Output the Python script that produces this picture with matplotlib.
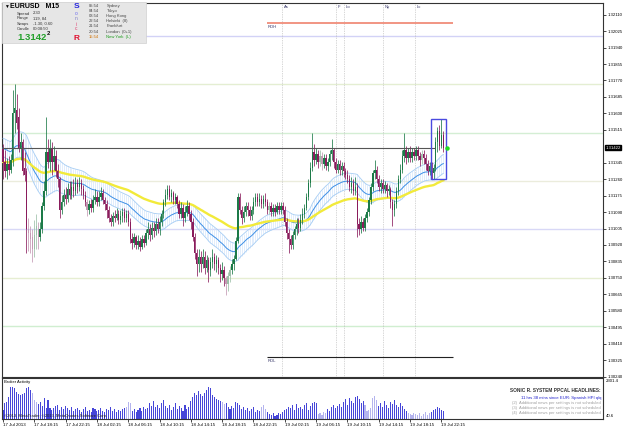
import matplotlib
matplotlib.use('Agg')
import matplotlib.pyplot as plt
from matplotlib.patches import Rectangle
import matplotlib.transforms as mtrans
import numpy as np

plt.rcParams['font.family'] = ['Liberation Sans', 'DejaVu Sans']

# EURUSD M15, prices in pips above 1.3000, one entry per bar (17 Jul 14:15 ...)
opens = [142,135,130,134,131,136,160,162,158,142, 145,132,130,100,98,96,90,97,100,96,
         100,112,120,140,135,142,135,138,130,126, 110,114,118,116,121,118,122,120,124,122,
         124,121,118,114,110,113,111,115,117,114, 117,119,115,113,110,106,104,107,106,108,
         105,107,109,106,108,104,95,93,96,92, 94,91,95,93,98,100,97,101,99,103,
         100,104,108,114,118,121,117,119,115,117, 113,108,111,106,109,112,108,104,96,88,
         82,86,82,86,80,84,79,83,86,82, 84,80,77,79,75,72,76,79,82,85,
         94,117,110,106,109,112,110,107,110,114, 117,114,116,113,116,114,110,112,109,111,
         109,112,110,112,110,104,98,95,92,97, 100,103,101,105,108,111,117,124,132,140,
         136,139,135,138,134,137,133,135,139,141, 135,131,134,131,133,130,128,126,122,124,
         120,122,103,100,104,101,106,109,115,122, 129,131,126,122,124,121,123,120,121,114,
         110,113,120,126,131,138,141,137,140,137, 140,138,141,138,136,139,137,134,130,133,
         129,132,145,151,143,149]
highs = [144,141,137,138,139,172,175,170,163,150, 147,140,132,106,102,100,105,108,104,104,
         114,125,158,147,147,145,143,141,134,127, 118,121,122,124,125,125,126,127,126,127,
         126,123,120,116,115,116,118,121,120,120, 122,121,117,115,112,108,109,110,111,110,
         110,111,111,110,110,106,98,98,97,97, 96,97,97,100,104,103,104,104,106,106,
         107,110,116,121,123,123,121,120,119,118, 115,114,113,112,115,114,110,106,98,90,
         90,89,90,89,87,86,86,90,88,87, 86,82,83,81,76,78,81,85,87,96,
         119,119,112,112,114,114,112,112,117,119, 119,119,118,118,119,116,114,114,113,113,
         114,114,114,114,112,106,100,97,99,102, 106,106,108,111,113,119,126,135,150,144,
         142,141,141,140,139,139,137,141,147,142, 137,136,136,135,135,132,131,128,127,126,
         127,124,106,107,106,108,111,117,124,131, 136,133,128,126,126,125,124,123,122,116,
         115,122,128,134,141,150,143,142,143,142, 142,143,143,140,141,141,139,136,135,135,
         134,148,153,154,157,151]
lows = [126,127,126,128,129,133,150,152,140,136, 128,125,88,89,88,83,86,90,90,94,
        98,110,118,132,130,128,131,127,122,106, 108,112,113,114,116,116,117,118,119,120,
        118,116,112,107,108,109,109,113,112,112, 115,113,110,106,104,102,102,104,105,103,
        103,104,104,104,102,93,90,91,90,90, 89,90,91,92,95,94,95,96,97,98,
        97,102,106,112,116,115,114,113,113,111, 106,106,102,104,107,105,100,94,85,76,
        78,78,80,77,78,73,76,80,79,78, 77,73,74,71,66,68,73,77,79,84,
        93,108,103,104,107,107,105,105,108,112, 112,112,111,111,112,108,108,107,107,107,
        108,108,108,108,102,95,88,90,90,95, 97,98,99,103,106,110,115,122,130,133,
        134,132,133,131,132,131,130,133,136,132, 129,129,128,128,127,126,124,120,119,118,
        118,96,97,98,99,99,104,107,113,120, 126,124,120,119,119,119,117,118,111,102,
        107,111,118,124,129,135,134,135,135,135, 136,136,136,133,134,134,131,128,128,126,
        126,130,140,141,142,140]
closes = [135,130,134,131,136,160,163,155,142,145, 130,128,100,98,95,90,97,102,96,100,
          112,120,140,135,142,135,138,130,126,110, 114,118,116,121,118,122,120,124,122,124,
          121,118,114,110,113,111,115,117,114,117, 119,115,113,110,106,104,107,106,108,105,
          107,109,106,108,104,95,93,96,92,94, 91,95,93,98,100,97,101,99,103,100,
          104,108,114,118,121,117,119,115,117,113, 108,111,106,109,112,108,104,96,88,82,
          86,82,86,80,84,79,83,86,82,84, 80,77,79,75,72,76,79,82,85,94,
          117,110,106,109,112,110,107,110,114,117, 114,116,113,116,114,110,112,109,111,109,
          112,110,112,110,104,98,95,92,97,100, 103,101,105,108,111,117,124,132,140,136,
          139,135,138,134,137,133,135,139,141,135, 131,134,131,133,130,128,126,122,124,120,
          122,103,100,104,101,106,109,115,122,129, 131,126,122,124,121,123,120,121,114,110,
          113,120,126,131,138,141,137,140,137,140, 138,141,138,136,139,137,134,130,133,129,
          132,145,151,143,149,142.2]

# broker activity (tick volume) per bar
volume = [535,920,975,1250,1800,1800,1745,1525,1415,1360, 1415,1470,1745,1800,1635,1470,1085,975,865,975,
          755,1195,645,1085,645,535,645,755,810,535, 700,590,755,645,535,700,480,590,645,535,
          425,590,700,480,535,425,645,590,480,535, 645,480,425,590,535,700,480,590,425,535,
          480,590,645,700,975,920,480,590,425,535, 645,480,700,590,645,920,755,1030,700,810,
          645,920,1085,755,645,810,535,700,920,590, 755,645,480,810,590,700,1030,1250,1470,1360,
          1580,1415,1305,1470,1635,1800,1745,1360,1250,1140, 1085,1030,975,865,920,700,590,755,645,975,
          920,810,590,700,535,645,480,590,700,425, 535,480,700,810,590,425,315,260,370,205,
          260,370,315,425,535,590,700,645,810,535, 865,645,700,590,810,920,535,755,920,975,
          920,315,370,260,425,370,590,480,700,810, 645,755,865,700,975,1140,810,1195,1030,920,
          1250,1305,1140,920,1030,810,480,535,645,1195, 1305,1085,755,920,700,1030,810,645,975,865,
          1085,810,700,920,755,590,480,370,315,260, 370,315,260,370,205,315,425,260,370,425,
          535,590,700,645,535,480]
# volume bars drawn light, candles drawn pale
pale_vol = [15,16,17,63,64,65,112,113,132,133,134,161,162,163,164,165,
            185,186,187,188,189,190,191,207,208,209,210,211,212,213,214,215,216,217,218]
pale_candle = [13,14,15,16,17,18,43,114,115,116,136,162,163,214]

price_ticks = ['1.32110','1.32025','1.31940','1.31855','1.31770','1.31685','1.31600','1.31515',
               '1.31345','1.31260','1.31175','1.31090','1.31005','1.30920','1.30835','1.30750',
               '1.30665','1.30580','1.30495','1.30410','1.30325','1.30240']
time_labels = ['17 Jul 2013','17 Jul 18:15','17 Jul 22:15','18 Jul 02:15','18 Jul 06:15',
               '18 Jul 10:15','18 Jul 14:15','18 Jul 18:15','18 Jul 22:15','19 Jul 02:15',
               '19 Jul 06:15','19 Jul 10:15','19 Jul 14:15','19 Jul 18:15','19 Jul 22:15']
time_pos = [0,16,32,48,64,80,96,112,128,144,160,176,192,208,224]

round_levels = [1.3200, 1.3175, 1.3150, 1.3125, 1.3100, 1.3075, 1.3050]
round_colors = ['#d2d2f6', '#e4eed2', '#d4eed4', '#ebecdc', '#d8d8f6', '#e6eed2', '#d0eed0']
sessions = [142.6, 170.2, 174.3, 194.2, 210.5]
session_names = ['As', 'F', 'Lo', 'Ny', 'Lc']
rdh, rdl = 1.32069, 1.30341
bid = 1.31422

W, H = 625, 429
fig = plt.figure(figsize=(6.25, 4.29), dpi=100)
ax = fig.add_axes([2/W, 1-377/H, 601/W, 374/H])
axv = fig.add_axes([2/W, 1-419/H, 601/W, 41/H])

o = 1.3 + np.array(opens)/1e4
h = 1.3 + np.array(highs)/1e4
l = 1.3 + np.array(lows)/1e4
c = 1.3 + np.array(closes, dtype=float)/1e4
n = len(c)
x = np.arange(n)

def ema(vals, seed, per):
    a = 2.0/(per+1)
    out = []
    e = seed
    for v in vals:
        e = e + a*(v-e)
        out.append(e)
    return np.array(out)

# sonic R dragon (EMA34 of high/low/close) and EMA89
d_hi = ema(h, 1.31473, 34)
d_lo = ema(l, 1.31385, 34)
d_mid = ema(c, 1.31426, 34)
e89 = ema(c, 1.31349, 89)

for lv, col in zip(round_levels, round_colors):
    ax.axhline(lv, color=col, lw=1.0, zorder=1)
for s in sessions:
    ax.axvline(s, color='#b0b0b0', lw=0.5, ls=(0, (1, 1.5)), zorder=1.5)
for s, nm in zip(sessions, session_names):
    ax.text(s + 0.8, 1.32150, nm, fontsize=3, color='#333366', va='center', ha='left')

ax.vlines(x, d_lo, d_hi, colors='#d4e6fb', lw=0.5, zorder=2)
ax.plot(x, d_hi, color='#a6cdf4', lw=0.6, zorder=3)
ax.plot(x, d_lo, color='#a6cdf4', lw=0.6, zorder=3)
ax.plot(x, d_mid, color='#3d8fe6', lw=0.7, zorder=3)
ax.plot(x, e89, color='#f2ea3a', lw=1.7, zorder=3.5)

up = c >= o
cols = []
for i in range(n):
    if i in pale_candle:
        cols.append('#9cc0a8' if up[i] else '#c49ab4')
    else:
        cols.append('#1c7a48' if up[i] else '#8a1c5c')
ax.vlines(x, l, h, colors=cols, lw=0.55, zorder=4)
body = np.maximum(np.abs(c-o), 0.00004)
ax.bar(x, body, bottom=np.minimum(o, c), width=0.7, color=cols, lw=0, zorder=4.5)

ax.hlines(bid, -1, 221, color='#555555', lw=0.8, zorder=5)
ax.hlines(rdh, 135, 230, color='#f08c7a', lw=1.3, zorder=5)
ax.hlines(rdl, 135, 230, color='#222222', lw=0.8, zorder=5)
ax.text(135, rdh - 0.00010, 'RDH', fontsize=3, color='#333366', va='top', ha='left')
ax.text(135, rdl - 0.00010, 'RDL', fontsize=3, color='#333366', va='top', ha='left')

last = slice(n-7, n)
ax.add_patch(Rectangle((n-7.2, l[last].min()), 7.4, h[last].max()-l[last].min(),
                       fill=False, ec='#4a4ae0', lw=1.0, zorder=6))
ax.plot([n+0.9], [c[-1]], 'o', color='#22dd22', ms=2.2, zorder=6)

ax.set_xlim(-0.51, 306.6)
ax.set_ylim(1.302377, 1.321705)
ax.yaxis.tick_right()
ax.set_yticks([float(t) for t in price_ticks])
ax.set_yticklabels(price_ticks)
ax.tick_params(axis='y', length=2, width=0.5, pad=1.5, labelsize=3.1)
ax.set_xticks([])
tr = mtrans.blended_transform_factory(ax.transAxes, ax.transData)
ax.text(1.004, bid, '1.31422', transform=tr, fontsize=3.1, color='white', va='center', ha='left',
        bbox=dict(boxstyle='square,pad=0.15', fc='black', ec='black'))
for sp in ax.spines.values():
    sp.set_color('#333333')
    sp.set_linewidth(0.8)

# broker activity panel
vcols = ['#b4b4ee' if i in pale_vol else '#4646d8' for i in range(n)]
axv.bar(x, volume, width=0.55, color=vcols, lw=0)
axv.set_xlim(-0.51, 306.6)
axv.set_ylim(40.6, 2301.4)
axv.set_yticks([])
axv.set_xticks(time_pos)
axv.set_xticklabels(time_labels, ha='left')
axv.tick_params(axis='x', length=2, width=0.5, pad=1, labelsize=3.2)
for sp in axv.spines.values():
    sp.set_color('#333333')
    sp.set_linewidth(0.8)
axv.text(0.003, 0.9, 'Broker Activity', transform=axv.transAxes, fontsize=3, va='center')
axv.text(0.003, 0.08, '\u00a92013, MetaTrader, \u00a92013, MetaQuotes Software Corp.',
         transform=axv.transAxes, fontsize=3, va='center', color='#222222')

def T(px, py, s, **kw):
    kw.setdefault('va', 'center')
    fig.text(px/W, 1-py/H, s, **kw)

T(606, 381, '2301.4', fontsize=3.1)
T(606, 416, '40.6', fontsize=3.1)

T(601, 390.7, 'SONIC R. SYSTEM PPCAL HEADLINES:', fontsize=3.4, fontweight='bold', ha='right', color='#333333')
T(601, 397.5, '11 hrs 38 mins since EUR: Spanish HPI q/q', fontsize=3.1, ha='right', color='#2222cc')
T(601, 403.2, '(2)  Additional news per settings is not scheduled', fontsize=3, ha='right', color='#a0a0a0')
T(601, 408.2, '(3)  Additional news per settings is not scheduled', fontsize=3, ha='right', color='#a0a0a0')
T(601, 413.2, '(4)  Additional news per settings is not scheduled', fontsize=3, ha='right', color='#a0a0a0')

# info panel
fig.patches.append(Rectangle((2/W, 1-43/H), 144/W, 41/H, transform=fig.transFigure,
                             fc='#e6e6e6', ec='#d0d0d0', lw=0.5, zorder=10))
T(4, 6, '\u25bc', fontsize=3.5, zorder=11)
T(10, 6.5, 'EURUSD   M15', fontsize=5, fontweight='bold', zorder=11)
for yy, k, v in [(13.5, 'Spread', '2.30'), (18.5, 'Range', '119, 84'),
                 (23.5, 'Swaps', '-1.30, 0.60'), (28.5, 'Candle', '00:08:50')]:
    T(17, yy, k, fontsize=3, zorder=11, color='#333333')
    T(33, yy, v, fontsize=3, zorder=11, color='#333333')
T(17, 37.5, '1.3142', fontsize=6.8, fontweight='bold', color='#22a02a', zorder=11)
T(47, 33.8, '2', fontsize=4.2, fontweight='bold', color='#111111', zorder=11)
T(73.5, 6.5, 'S', fontsize=6, fontweight='bold', color='#2323dd', zorder=11)
T(74.5, 13.5, 'o', fontsize=3.5, color='#6a6af0', zorder=11)
T(74.5, 18.5, 'n', fontsize=3.5, color='#8080c8', zorder=11)
T(75.5, 24, 'i', fontsize=3.5, color='#e04070', zorder=11)
T(74.5, 29, 'c', fontsize=3.5, color='#e04070', zorder=11)
T(73.5, 38, 'R', fontsize=6, fontweight='bold', color='#e01030', zorder=11)
sess = [('05:54', 'Sydney'), ('04:54', 'Tokyo'), ('03:54', 'Hong Kong'), ('22:54', 'Helsinki  (8)'),
        ('21:54', 'Frankfurt'), ('20:54', 'London  (0+1)'), ('15:54', 'New York  (L)')]
rows = [5.7, 11, 16, 21.2, 26.4, 31.6, 37]
for (t, nm), yy in zip(sess, rows):
    last_row = nm.startswith('New')
    T(89, yy, t, fontsize=3, zorder=11, color='#d07000' if last_row else '#444444')
    T(106.5, yy, nm, fontsize=3, zorder=11, color='#1a9a1a' if last_row else '#444444')

fig.savefig('out.png', dpi=100)
